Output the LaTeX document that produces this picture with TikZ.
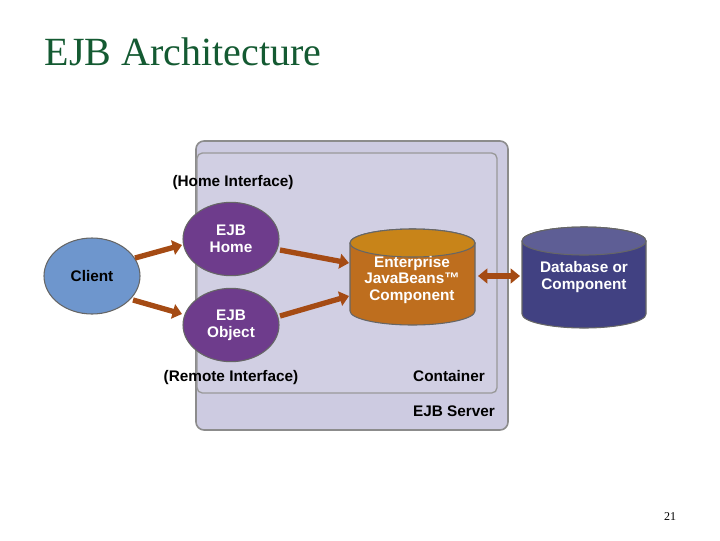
\documentclass[tikz,border=0pt]{standalone}
\usepackage{fontspec}
\setmainfont{Liberation Serif}
\newfontfamily\arialf{Liberation Sans}
\usetikzlibrary{shapes.geometric,arrows.meta}
\definecolor{titlegreen}{RGB}{20,90,50}
\definecolor{boxfill}{RGB}{205,203,225}
\definecolor{clientblue}{RGB}{110,150,205}
\definecolor{ejbpurple}{RGB}{110,60,140}
\definecolor{beanorange}{RGB}{190,110,30}
\definecolor{dbblue}{RGB}{65,65,130}
\definecolor{arrowbrown}{RGB}{165,75,20}
\begin{document}
\begin{tikzpicture}[x=0.75pt,y=-0.75pt,
  lbl/.style={font=\arialf\bfseries\fontsize{11.5}{12.5}\selectfont, align=center},
  wlbl/.style={lbl, text=white},
  oval/.style={ellipse, draw=black!60, line width=0.8pt, minimum width=72pt, minimum height=55pt, inner sep=0pt},
  arr/.style={draw=arrowbrown, line width=4pt, -{Triangle[length=7pt,width=11pt]}},
  darr/.style={draw=arrowbrown, line width=4pt, {Triangle[length=7pt,width=11pt]}-{Triangle[length=7pt,width=11pt]}}]
\useasboundingbox (0,0) rectangle (720,540);
\node[anchor=west, text=titlegreen, font=\fontsize{30}{34}\selectfont] (title) at (40,52) {EJB Architecture};
\node[font=\fontsize{9}{10}\selectfont] (pg) at (670,517) {21};
\draw[rounded corners=6pt, fill=boxfill, draw=black!45, line width=1.2pt] (196,141) rectangle (508,430);
\draw[rounded corners=4pt, fill=boxfill!92!white, draw=black!40, line width=1pt] (197,153) rectangle (497,393);
\node[lbl] (hi) at (233,183) {(Home Interface)};
\node[lbl] (ri) at (231,378) {(Remote Interface)};
\node[lbl] (cont) at (449,376) {Container};
\node[lbl] (srv) at (454,411) {EJB Server};
\node[oval, fill=clientblue, minimum width=72pt, minimum height=57pt] (client) at (92,276) {};
\node[lbl] at (client) {Client};
\node[oval, fill=ejbpurple] (home) at (231,239) {};
\node[wlbl] at (home) {EJB\\Home};
\node[oval, fill=ejbpurple] (obj) at (231,325) {};
\node[wlbl] at (obj) {EJB\\Object};
% bean cylinder
\draw[fill=beanorange, draw=black!60, line width=0.8pt] (350,243) -- (350,311) arc[start angle=180,end angle=0,x radius=62.5,y radius=14] -- (475,243) arc[start angle=0,end angle=-180,x radius=62.5,y radius=14] -- cycle;
\draw[fill=beanorange!85!yellow, draw=black!60, line width=0.8pt] (412.5,243) ellipse[x radius=62.5,y radius=14];
\node[wlbl] (bean) at (412,280) {Enterprise\\JavaBeans™\\Component};
% db cylinder
\draw[fill=dbblue, draw=black!60, line width=0.8pt] (522,241) -- (522,314) arc[start angle=180,end angle=0,x radius=62,y radius=14] -- (646,241) arc[start angle=0,end angle=-180,x radius=62,y radius=14] -- cycle;
\draw[fill=dbblue!85!white, draw=black!60, line width=0.8pt] (584,241) ellipse[x radius=62,y radius=14];
\node[wlbl] (db) at (584,277) {Database or\\Component};
\coordinate (c1) at (135,258); \coordinate (h1) at (182,245);
\coordinate (c2) at (133,300); \coordinate (o1) at (182,314);
\draw[arr] (c1) -- (h1);
\draw[arr] (c2) -- (o1);
\coordinate (h2) at (280,250); \coordinate (b1) at (349,263);
\coordinate (o2) at (280,316); \coordinate (b2) at (349,296);
\draw[arr] (h2) -- (b1);
\draw[arr] (o2) -- (b2);
\coordinate (b3) at (478,276); \coordinate (d1) at (520,276);
\draw[darr] (b3) -- (d1);
\end{tikzpicture}
\end{document}
